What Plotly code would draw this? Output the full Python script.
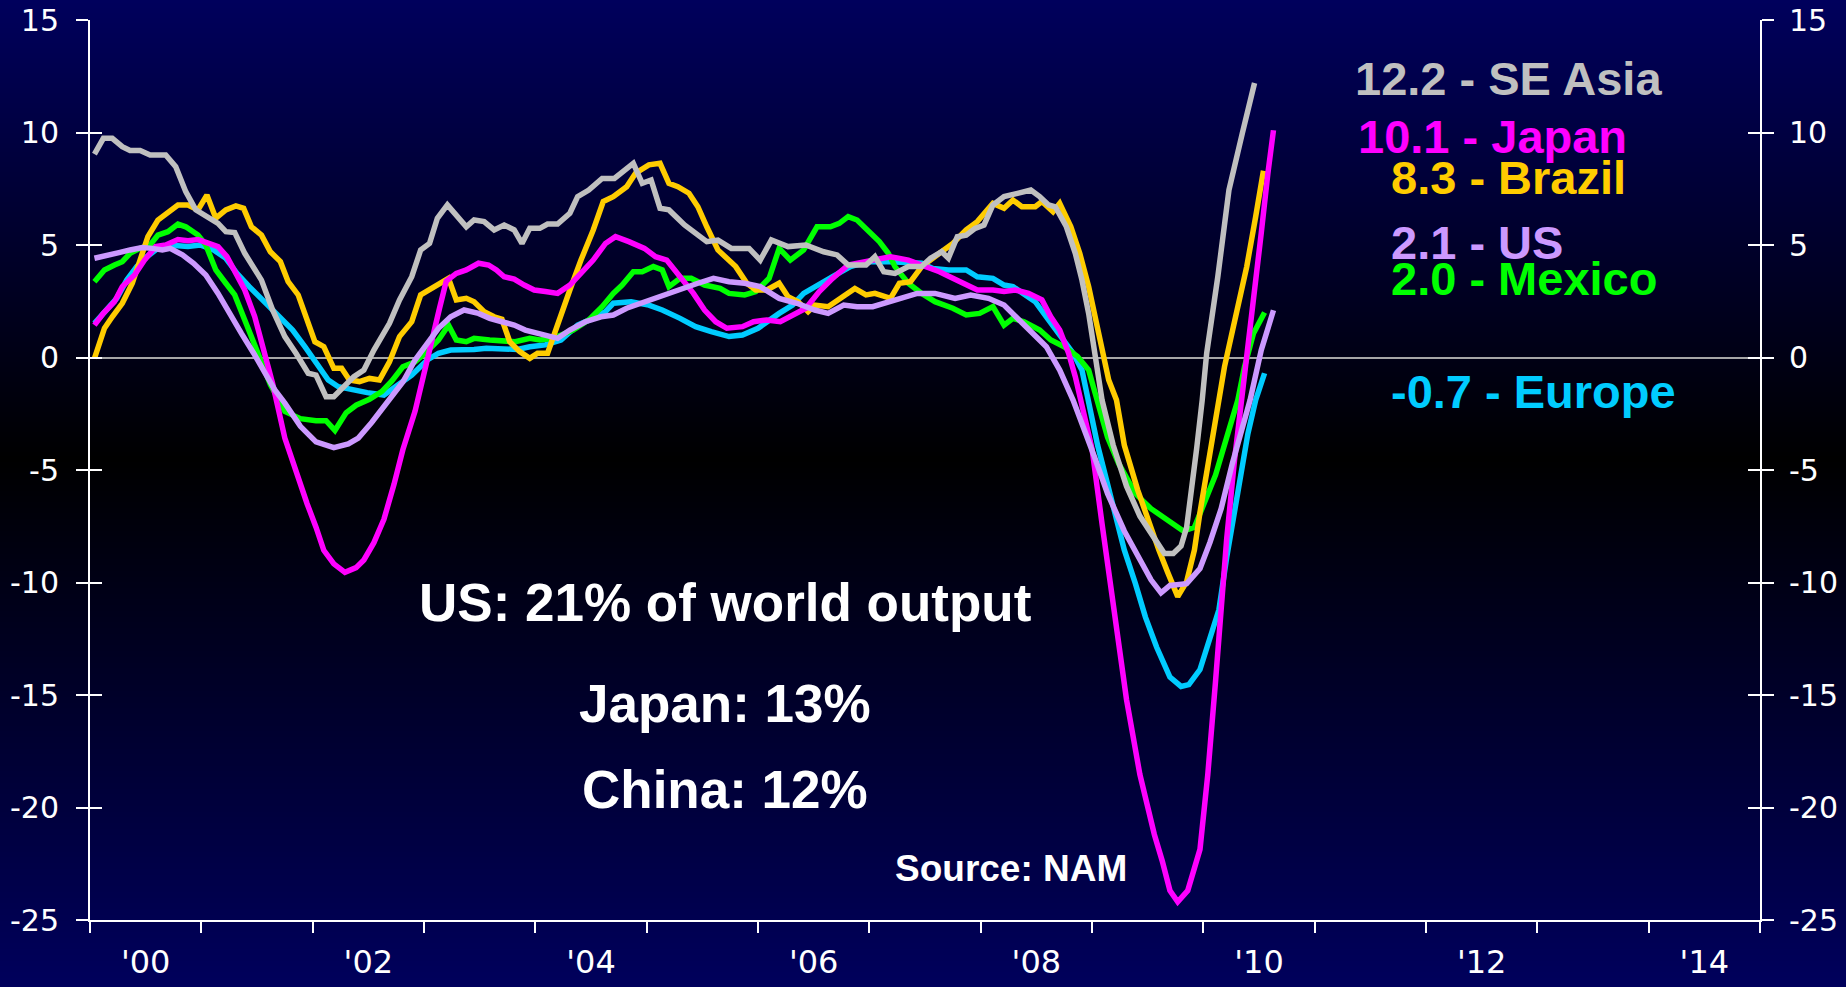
import base64
import struct
import zlib

import plotly.graph_objects as go

# ---------------------------------------------------------------------------
# Manufacturing output growth by region (% change), readings by date (years)
# ---------------------------------------------------------------------------
se_asia_x = [2000.04, 2000.12, 2000.20, 2000.29, 2000.36, 2000.45, 2000.54, 2000.68, 2000.77, 2000.86,
             2000.95, 2001.06, 2001.15, 2001.22, 2001.30, 2001.39, 2001.54, 2001.64, 2001.75, 2001.85,
             2001.96, 2002.03, 2002.12, 2002.19, 2002.28, 2002.37, 2002.46, 2002.55, 2002.69, 2002.78,
             2002.89, 2002.97, 2003.05, 2003.12, 2003.21, 2003.29, 2003.38, 2003.45, 2003.54, 2003.63,
             2003.72, 2003.81, 2003.88, 2003.95, 2004.04, 2004.11, 2004.20, 2004.31, 2004.38, 2004.48,
             2004.60, 2004.71, 2004.88, 2004.96, 2005.04, 2005.12, 2005.20, 2005.34, 2005.54, 2005.64,
             2005.76, 2005.92, 2006.02, 2006.12, 2006.27, 2006.43, 2006.59, 2006.71, 2006.81, 2006.97,
             2007.05, 2007.13, 2007.23, 2007.35, 2007.47, 2007.55, 2007.65, 2007.71, 2007.79, 2007.87,
             2007.95, 2008.03, 2008.11, 2008.21, 2008.35, 2008.45, 2008.53, 2008.61, 2008.67, 2008.77,
             2008.85, 2008.91, 2008.97, 2009.03, 2009.09, 2009.19, 2009.31, 2009.43, 2009.56, 2009.65,
             2009.73, 2009.80, 2009.85, 2009.90, 2009.94, 2009.99, 2010.03, 2010.13, 2010.23, 2010.35,
             2010.46]
se_asia_y = [9.04, 9.74, 9.74, 9.37, 9.20, 9.20, 9.00, 9.00, 8.48, 7.37,
             6.56, 6.26, 5.96, 5.59, 5.55, 4.63, 3.44, 2.11, 0.93, 0.19,
             -0.70, -0.78, -1.74, -1.74, -1.30, -0.85, -0.56, 0.33, 1.52, 2.56,
             3.59, 4.78, 5.07, 6.19, 6.78, 6.33, 5.81, 6.11, 6.04, 5.67,
             5.89, 5.67, 5.07, 5.74, 5.74, 5.93, 5.93, 6.41, 7.15, 7.44,
             7.96, 7.96, 8.63, 7.74, 7.89, 6.63, 6.56, 5.89, 5.15, 5.22,
             4.85, 4.85, 4.33, 5.22, 4.93, 5.00, 4.70, 4.56, 4.11, 4.11,
             4.48, 3.81, 3.74, 4.04, 4.04, 4.41, 4.70, 4.41, 5.37, 5.44,
             5.74, 5.89, 6.78, 7.15, 7.30, 7.44, 7.15, 6.78, 6.70, 5.81,
             4.63, 3.44, 1.96, 0.19, -1.89, -3.89, -5.72, -7.05, -8.05, -8.71,
             -8.71, -8.38, -7.55, -5.72, -4.05, -1.89, 0.19, 3.59, 7.44, 9.96,
             12.2]

japan_x = [2000.04, 2000.12, 2000.22, 2000.29, 2000.40, 2000.49, 2000.59, 2000.68, 2000.79, 2000.88,
           2000.97, 2001.06, 2001.15, 2001.23, 2001.32, 2001.39, 2001.48, 2001.57, 2001.64, 2001.75,
           2001.84, 2001.95, 2002.03, 2002.10, 2002.19, 2002.29, 2002.39, 2002.46, 2002.55, 2002.64,
           2002.73, 2002.81, 2002.92, 2002.99, 2003.06, 2003.14, 2003.20, 2003.29, 2003.38, 2003.49,
           2003.58, 2003.65, 2003.72, 2003.81, 2003.90, 2003.99, 2004.09, 2004.20, 2004.31, 2004.41,
           2004.52, 2004.63, 2004.72, 2004.84, 2004.98, 2005.08, 2005.18, 2005.30, 2005.42, 2005.52,
           2005.62, 2005.72, 2005.86, 2005.96, 2006.08, 2006.20, 2006.31, 2006.43, 2006.55, 2006.67,
           2006.81, 2006.99, 2007.19, 2007.35, 2007.51, 2007.63, 2007.75, 2007.87, 2007.97, 2008.11,
           2008.21, 2008.31, 2008.43, 2008.55, 2008.63, 2008.71, 2008.79, 2008.85, 2008.90, 2009.00,
           2009.09, 2009.19, 2009.31, 2009.43, 2009.56, 2009.63, 2009.70, 2009.77, 2009.86, 2009.97,
           2010.04, 2010.11, 2010.16, 2010.21, 2010.28, 2010.34, 2010.44, 2010.52, 2010.58, 2010.63]
japan_y = [1.44, 1.96, 2.48, 3.15, 3.67, 4.33, 4.93, 5.00, 5.24, 5.19,
           5.24, 5.07, 4.93, 4.48, 3.59, 3.00, 1.81, 0.19, -1.15, -3.58,
           -4.96, -6.50, -7.54, -8.57, -9.17, -9.55, -9.34, -9.00, -8.23, -7.19,
           -5.65, -4.10, -2.38, -1.00, 0.60, 2.20, 3.40, 3.74, 3.89, 4.19,
           4.11, 3.89, 3.59, 3.48, 3.22, 3.00, 2.93, 2.85, 3.22, 3.74,
           4.33, 5.07, 5.37, 5.15, 4.85, 4.48, 4.33, 3.59, 2.85, 2.11,
           1.59, 1.30, 1.37, 1.59, 1.67, 1.59, 1.89, 2.19, 2.93, 3.52,
           4.11, 4.26, 4.48, 4.33, 4.04, 3.81, 3.52, 3.22, 3.00, 3.00,
           2.93, 3.00, 2.85, 2.56, 1.81, 1.22, 0.19, -0.85, -1.89, -4.05,
           -7.38, -11.04, -15.20, -18.53, -21.20, -22.36, -23.69, -24.19, -23.69, -21.86,
           -18.53, -14.37, -11.04, -8.05, -4.55, -2.10, 1.81, 5.52, 8.19, 10.1]

brazil_x = [2000.04, 2000.13, 2000.20, 2000.29, 2000.38, 2000.45, 2000.52, 2000.61, 2000.70, 2000.79,
            2000.88, 2000.97, 2001.05, 2001.13, 2001.22, 2001.31, 2001.38, 2001.45, 2001.54, 2001.62,
            2001.71, 2001.78, 2001.87, 2001.95, 2002.02, 2002.10, 2002.19, 2002.26, 2002.33, 2002.42,
            2002.51, 2002.60, 2002.69, 2002.78, 2002.89, 2002.97, 2003.06, 2003.15, 2003.22, 2003.29,
            2003.38, 2003.45, 2003.54, 2003.63, 2003.70, 2003.77, 2003.86, 2003.95, 2004.02, 2004.11,
            2004.20, 2004.31, 2004.41, 2004.52, 2004.61, 2004.70, 2004.82, 2004.90, 2005.02, 2005.12,
            2005.20, 2005.28, 2005.38, 2005.46, 2005.54, 2005.64, 2005.72, 2005.80, 2005.90, 2005.98,
            2006.08, 2006.19, 2006.27, 2006.36, 2006.45, 2006.51, 2006.63, 2006.75, 2006.87, 2006.97,
            2007.05, 2007.19, 2007.27, 2007.37, 2007.47, 2007.63, 2007.75, 2007.87, 2007.97, 2008.11,
            2008.21, 2008.29, 2008.37, 2008.49, 2008.55, 2008.65, 2008.71, 2008.81, 2008.89, 2008.97,
            2009.03, 2009.09, 2009.15, 2009.22, 2009.29, 2009.41, 2009.51, 2009.60, 2009.68, 2009.77,
            2009.85, 2009.92, 2009.97, 2010.04, 2010.11, 2010.19, 2010.27, 2010.39, 2010.47, 2010.54]
brazil_y = [-0.04, 1.30, 1.81, 2.41, 3.30, 4.33, 5.37, 6.11, 6.41, 6.78,
            6.78, 6.56, 7.22, 6.19, 6.56, 6.74, 6.63, 5.81, 5.44, 4.70,
            4.26, 3.37, 2.78, 1.67, 0.70, 0.48, -0.48, -0.48, -1.00, -1.07,
            -0.93, -1.00, -0.19, 0.93, 1.59, 2.78, 3.07, 3.30, 3.52, 2.56,
            2.63, 2.48, 2.04, 1.81, 1.70, 0.70, 0.26, -0.04, 0.19, 0.19,
            1.52, 3.00, 4.33, 5.67, 6.93, 7.15, 7.59, 8.19, 8.56, 8.63,
            7.74, 7.59, 7.30, 6.70, 5.81, 4.78, 4.41, 4.04, 3.30, 3.00,
            3.00, 3.30, 2.70, 2.48, 2.04, 2.33, 2.26, 2.63, 3.07, 2.78,
            2.85, 2.63, 3.30, 3.37, 4.04, 4.63, 5.07, 5.67, 6.04, 6.85,
            6.63, 7.00, 6.70, 6.70, 6.93, 6.48, 6.85, 5.81, 4.63, 3.15,
            1.67, 0.19, -1.00, -1.89, -3.89, -5.88, -7.38, -8.55, -9.55, -10.63,
            -9.96, -8.55, -6.88, -4.72, -2.72, -0.41, 1.37, 4.04, 6.26, 8.3]

us_x = [2000.04, 2000.15, 2000.26, 2000.36, 2000.47, 2000.56, 2000.65, 2000.72, 2000.83, 2000.93,
        2001.04, 2001.15, 2001.25, 2001.36, 2001.47, 2001.57, 2001.66, 2001.75, 2001.89, 2002.03,
        2002.19, 2002.32, 2002.41, 2002.53, 2002.67, 2002.81, 2002.92, 2003.03, 2003.13, 2003.24,
        2003.36, 2003.49, 2003.59, 2003.70, 2003.81, 2003.91, 2004.04, 2004.20, 2004.31, 2004.45,
        2004.59, 2004.70, 2004.82, 2004.98, 2005.14, 2005.30, 2005.46, 2005.60, 2005.74, 2005.88,
        2006.02, 2006.19, 2006.35, 2006.51, 2006.63, 2006.77, 2006.89, 2007.03, 2007.19, 2007.31,
        2007.43, 2007.59, 2007.77, 2007.91, 2008.07, 2008.21, 2008.35, 2008.49, 2008.59, 2008.71,
        2008.83, 2009.02, 2009.14, 2009.29, 2009.43, 2009.53, 2009.62, 2009.70, 2009.85, 2009.97,
        2010.06, 2010.16, 2010.26, 2010.36, 2010.42, 2010.52, 2010.63]
us_y = [4.41, 4.56, 4.66, 4.78, 4.89, 4.85, 4.78, 4.85, 4.56, 4.19,
        3.67, 2.85, 1.96, 1.07, 0.19, -0.70, -1.44, -2.03, -3.06, -3.75,
        -4.01, -3.84, -3.58, -2.89, -2.03, -1.09, -0.11, 0.63, 1.30, 1.81,
        2.11, 1.96, 1.74, 1.59, 1.44, 1.22, 1.07, 0.85, 1.22, 1.59,
        1.81, 1.89, 2.19, 2.48, 2.78, 3.07, 3.30, 3.52, 3.37, 3.30,
        3.15, 2.63, 2.41, 2.11, 1.96, 2.33, 2.26, 2.26, 2.48, 2.63,
        2.85, 2.85, 2.63, 2.78, 2.63, 2.33, 1.67, 1.00, 0.48, -0.56,
        -1.89, -4.39, -6.05, -7.71, -9.05, -9.88, -10.46, -10.13, -10.05, -9.38,
        -8.21, -6.72, -4.72, -2.89, -1.89, 0.33, 2.1]

mexico_x = [2000.04, 2000.13, 2000.22, 2000.29, 2000.36, 2000.45, 2000.54, 2000.61, 2000.70, 2000.79,
            2000.86, 2000.97, 2001.04, 2001.13, 2001.22, 2001.30, 2001.39, 2001.52, 2001.62, 2001.75,
            2001.89, 2002.03, 2002.12, 2002.20, 2002.30, 2002.39, 2002.51, 2002.62, 2002.71, 2002.81,
            2002.92, 2003.01, 2003.13, 2003.22, 2003.29, 2003.38, 2003.45, 2003.59, 2003.72, 2003.82,
            2003.95, 2004.04, 2004.16, 2004.34, 2004.48, 2004.60, 2004.70, 2004.78, 2004.88, 2004.96,
            2005.06, 2005.14, 2005.20, 2005.30, 2005.40, 2005.52, 2005.66, 2005.74, 2005.88, 2005.98,
            2006.10, 2006.19, 2006.29, 2006.41, 2006.53, 2006.65, 2006.73, 2006.81, 2006.89, 2006.99,
            2007.09, 2007.17, 2007.23, 2007.35, 2007.47, 2007.59, 2007.75, 2007.87, 2007.99, 2008.11,
            2008.21, 2008.29, 2008.39, 2008.53, 2008.63, 2008.75, 2008.87, 2008.97, 2009.05, 2009.14,
            2009.24, 2009.39, 2009.53, 2009.68, 2009.82, 2009.92, 2010.02, 2010.11, 2010.21, 2010.31,
            2010.37, 2010.45, 2010.55]
mexico_y = [3.37, 3.89, 4.11, 4.26, 4.63, 4.85, 5.00, 5.44, 5.59, 5.93,
            5.81, 5.44, 5.00, 3.89, 3.30, 2.78, 1.67, 0.10, -1.20, -2.40,
            -2.72, -2.81, -2.81, -3.24, -2.46, -2.12, -1.86, -1.52, -1.05, -0.41,
            -0.19, 0.19, 0.78, 1.44, 0.78, 0.70, 0.85, 0.78, 0.70, 0.70,
            0.85, 0.78, 0.85, 1.22, 1.67, 2.26, 2.85, 3.22, 3.81, 3.81,
            4.04, 3.89, 3.15, 3.52, 3.52, 3.22, 3.07, 2.85, 2.78, 2.93,
            3.52, 4.85, 4.33, 4.78, 5.81, 5.81, 5.96, 6.26, 6.11, 5.59,
            5.15, 4.63, 4.04, 3.30, 2.85, 2.48, 2.19, 1.89, 1.96, 2.26,
            1.44, 1.74, 1.59, 1.22, 0.78, 0.48, 0.04, -0.56, -1.89, -3.55,
            -4.72, -6.05, -6.72, -7.22, -7.71, -7.55, -6.38, -5.22, -3.55, -1.89,
            -0.41, 1.07, 2.0]

europe_x = [2000.04, 2000.13, 2000.24, 2000.33, 2000.42, 2000.51, 2000.61, 2000.70, 2000.79, 2000.88,
            2000.99, 2001.11, 2001.22, 2001.32, 2001.43, 2001.55, 2001.68, 2001.82, 2001.93, 2002.03,
            2002.14, 2002.23, 2002.35, 2002.49, 2002.64, 2002.74, 2002.89, 2003.03, 2003.13, 2003.24,
            2003.35, 2003.45, 2003.56, 2003.74, 2003.84, 2003.95, 2004.09, 2004.23, 2004.38, 2004.52,
            2004.63, 2004.70, 2004.86, 2005.02, 2005.14, 2005.30, 2005.44, 2005.58, 2005.74, 2005.86,
            2006.00, 2006.19, 2006.31, 2006.41, 2006.55, 2006.67, 2006.83, 2006.99, 2007.19, 2007.35,
            2007.47, 2007.57, 2007.71, 2007.87, 2007.97, 2008.11, 2008.21, 2008.29, 2008.39, 2008.49,
            2008.59, 2008.67, 2008.75, 2008.83, 2008.91, 2008.97, 2009.05, 2009.17, 2009.29, 2009.39,
            2009.48, 2009.58, 2009.70, 2009.80, 2009.87, 2009.97, 2010.04, 2010.14, 2010.21, 2010.31,
            2010.40, 2010.47, 2010.55]
europe_y = [1.52, 2.04, 2.63, 3.44, 4.04, 4.48, 4.85, 5.00, 4.96, 4.93,
            5.00, 4.78, 4.41, 3.74, 3.15, 2.56, 1.96, 1.22, 0.48, -0.19,
            -1.00, -1.30, -1.44, -1.56, -1.67, -1.30, -0.78, -0.11, 0.19, 0.33,
            0.33, 0.36, 0.41, 0.41, 0.36, 0.48, 0.56, 0.78, 1.44, 1.74,
            2.04, 2.41, 2.48, 2.33, 2.11, 1.74, 1.37, 1.15, 0.93, 1.00,
            1.30, 1.96, 2.33, 2.85, 3.22, 3.59, 4.04, 4.26, 4.26, 4.19,
            4.19, 3.96, 3.89, 3.89, 3.59, 3.52, 3.22, 3.15, 2.78, 2.48,
            1.81, 1.30, 0.78, 0.19, -0.56, -1.89, -3.89, -6.22, -8.55, -10.05,
            -11.54, -12.87, -14.20, -14.62, -14.54, -13.87, -12.71, -11.21, -8.88, -5.88,
            -3.39, -1.89, -0.7]

# Axis ticks and labels
year_ticks = list(range(2000, 2016))
year_label_pos = [2000.5 + 2 * i for i in range(8)]
year_labels = ["'00", "'02", "'04", "'06", "'08", "'10", "'12", "'14"]
value_ticks = [-25, -20, -15, -10, -5, 0, 5, 10, 15]
value_labels = ["-25", "-20", "-15", "-10", "-5", "0", "5", "10", "15"]

# Series drawn back to front: (name, x, y, colour, end label)
series = [
    ("Europe", europe_x, europe_y, "#00CCFF", "-0.7 - Europe"),
    ("Mexico", mexico_x, mexico_y, "#00FF00", "2.0 - Mexico"),
    ("Brazil", brazil_x, brazil_y, "#FFCC00", "8.3 - Brazil"),
    ("Japan", japan_x, japan_y, "#FF00FF", "10.1 - Japan"),
    ("SE Asia", se_asia_x, se_asia_y, "#C0C0C0", "12.2 - SE Asia"),
    ("US", us_x, us_y, "#CC99FF", "2.1 - US"),
]

W, H = 1846, 987
FONT = "Liberation Sans, Arial, Helvetica, sans-serif"
TICK_FONT = "DejaVu Sans, Verdana, sans-serif"


def gradient_png(width, height, top, mid_pos, bottom):
    """Vertical navy-black-navy gradient as a PNG data URI."""
    rows = []
    for yy in range(height):
        t = yy / (height - 1)
        if t <= mid_pos:
            c = [v * (1 - t / mid_pos) for v in top]
        else:
            c = [v * (t - mid_pos) / (1 - mid_pos) for v in bottom]
        px = bytes(int(round(v)) for v in c)
        rows.append(b"\x00" + px * width)
    raw = b"".join(rows)

    def chunk(tag, data):
        return (struct.pack(">I", len(data)) + tag + data
                + struct.pack(">I", zlib.crc32(tag + data) & 0xFFFFFFFF))

    png = (b"\x89PNG\r\n\x1a\n"
           + chunk(b"IHDR", struct.pack(">IIBBBBB", width, height, 8, 2, 0, 0, 0))
           + chunk(b"IDAT", zlib.compress(raw, 9))
           + chunk(b"IEND", b""))
    return "data:image/png;base64," + base64.b64encode(png).decode()


# Plot area in pixels
left_px, right_px, top_px, bottom_px = 90, 1760, 20, 920
x_dom = [left_px / W, right_px / W]
y_dom = [1 - bottom_px / H, 1 - top_px / H]

fig = go.Figure()

for name, xs, ys, colour, _ in series:
    fig.add_trace(go.Scatter(x=xs, y=ys, mode="lines", name=name,
                             line=dict(color=colour, width=5.5), hoverinfo="skip"))

# empty traces so the extra tick-only axes are drawn
for ax in ["y2", "y3", "y4"]:
    fig.add_trace(go.Scatter(x=[], y=[], yaxis=ax, showlegend=False, hoverinfo="skip"))

tick_font = dict(family=TICK_FONT, size=30, color="white")
yrange = [-25, 15]
common_y = dict(range=yrange, showgrid=False, automargin=False,
                tickmode="array", tickvals=value_ticks, ticktext=value_labels,
                ticklen=12, tickwidth=2, tickcolor="white")

fig.update_layout(
    width=W, height=H,
    margin=dict(l=0, r=0, t=0, b=0, pad=0, autoexpand=False),
    paper_bgcolor="#000040",
    plot_bgcolor="rgba(0,0,0,0)",
    showlegend=False,
    hovermode=False,
    xaxis=dict(
        domain=x_dom, range=[2000, 2015], showgrid=False, zeroline=False,
        automargin=False,
        showline=True, linecolor="white", linewidth=2,
        tickmode="array", tickvals=year_label_pos, ticktext=year_labels,
        ticks="", ticklabelstandoff=13,
        tickfont=dict(family=TICK_FONT, size=32, color="white"),
        minor=dict(tickmode="array", tickvals=year_ticks, ticks="outside",
                   ticklen=11, tickwidth=2, tickcolor="white"),
    ),
    yaxis=dict(
        domain=y_dom, side="left", ticks="outside",
        zeroline=True, zerolinecolor="#A6A6A6", zerolinewidth=2,
        showline=True, linecolor="white", linewidth=2,
        ticklabelstandoff=11, tickfont=tick_font, **common_y,
    ),
    yaxis2=dict(
        overlaying="y", side="left", anchor="x", zeroline=False, showline=False,
        ticks="inside", showticklabels=False, **common_y,
    ),
    yaxis3=dict(
        overlaying="y", side="right", anchor="x", zeroline=False,
        showline=True, linecolor="white", linewidth=2, ticks="outside",
        ticklabelstandoff=9, tickfont=tick_font, **common_y,
    ),
    yaxis4=dict(
        overlaying="y", side="right", anchor="x", zeroline=False, showline=False,
        ticks="inside", showticklabels=False, **common_y,
    ),
    images=[dict(
        source=gradient_png(4, H, (0, 0, 92), 0.465, (0, 0, 92)),
        xref="paper", yref="paper", x=0, y=1, sizex=1, sizey=1,
        xanchor="left", yanchor="top", sizing="stretch", layer="below",
    )],
)

# Latest-value labels for each region
label_pos = {
    "SE Asia": (2011.345, 12.42),
    "Japan": (2011.37, 9.80),
    "Brazil": (2011.67, 8.02),
    "US": (2011.67, 5.13),
    "Mexico": (2011.67, 3.53),
    "Europe": (2011.67, -1.49),
}
for name, _, _, colour, text in series:
    lx, ly = label_pos[name]
    fig.add_annotation(x=lx, y=ly, xref="x", yref="y", text=text, showarrow=False,
                       xanchor="left", yanchor="middle",
                       font=dict(family=FONT, size=47, color=colour, weight="bold"))

# Share-of-world-output notes and source
notes = [
    ("US: 21% of world output", 2005.70, -10.91, 53),
    ("Japan: 13%", 2005.70, -15.36, 53),
    ("China: 12%", 2005.70, -19.18, 53),
    ("Source: NAM", 2008.27, -22.72, 37),
]
for text, nx, ny, size in notes:
    fig.add_annotation(x=nx, y=ny, xref="x", yref="y", text=text, showarrow=False,
                       xanchor="center", yanchor="middle",
                       font=dict(family=FONT, size=size, color="white", weight="bold"))

fig.write_html("out.html")
